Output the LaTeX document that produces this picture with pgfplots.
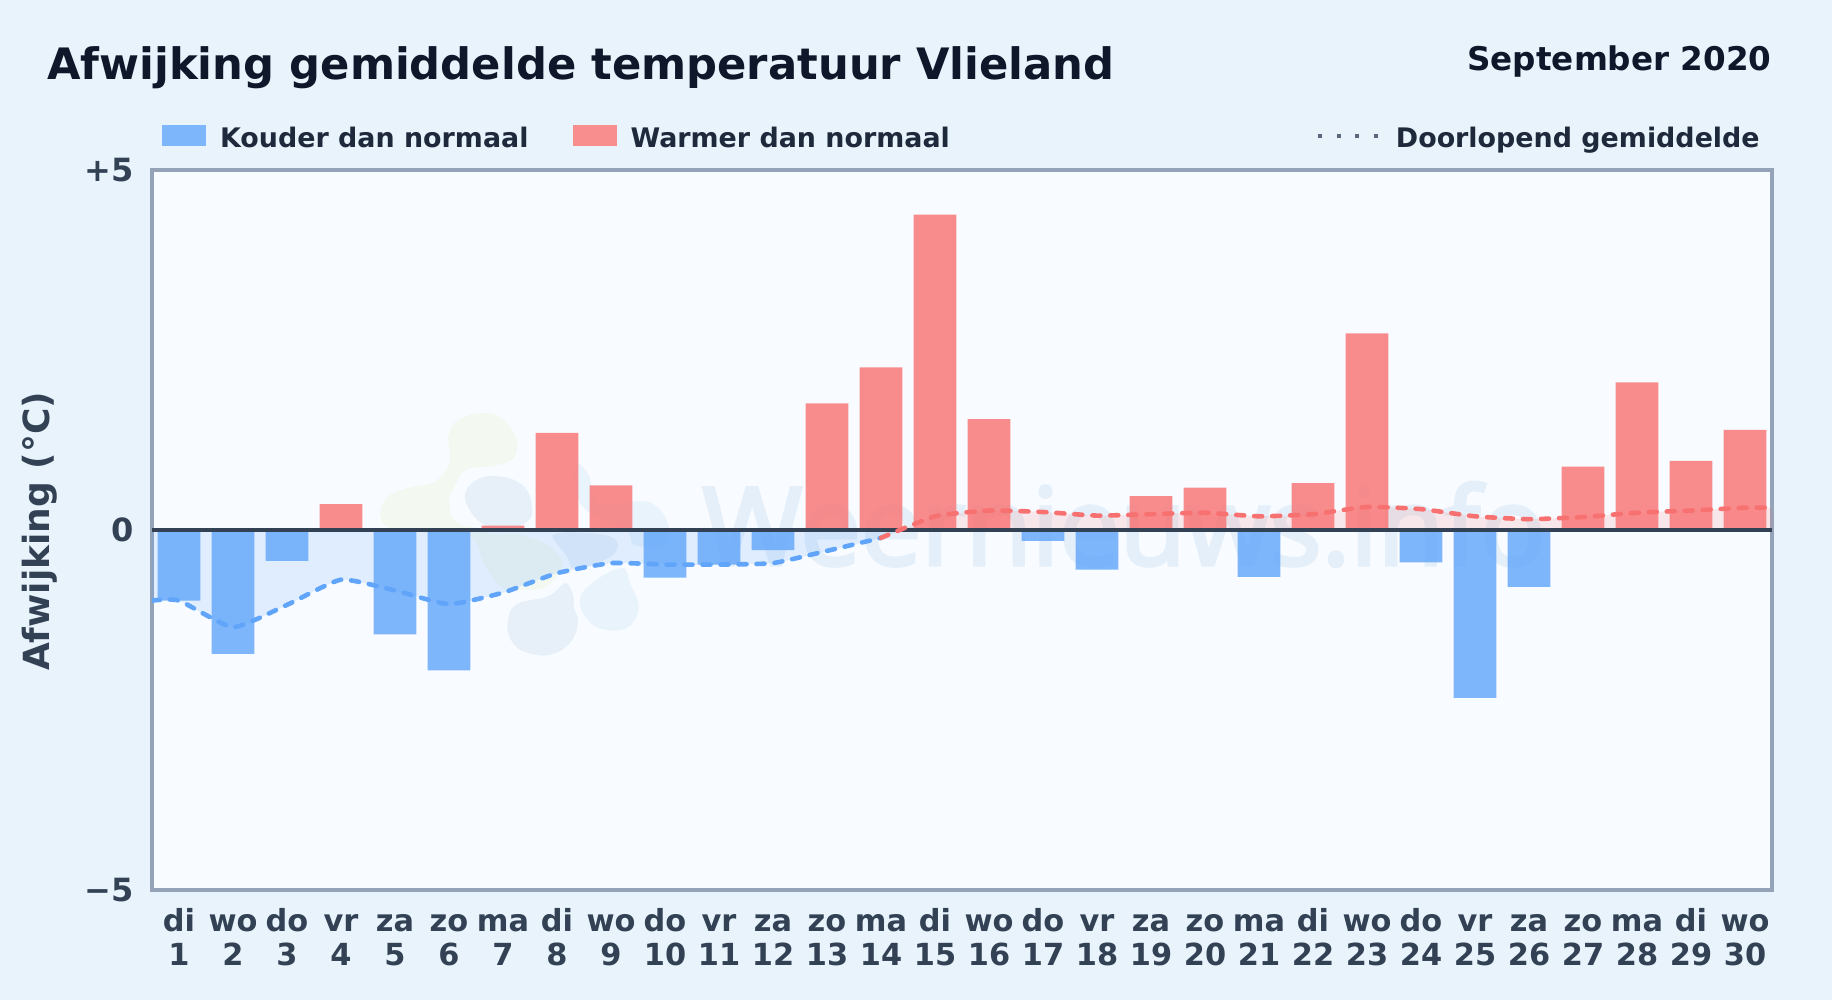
\documentclass[border=0pt]{standalone}
\usepackage{fontspec}
\setmainfont{DejaVu Sans}
\newfontfamily\wmfont[FakeBold=3.2]{Open Sans}
\usepackage{pgfplots}
\pgfplotsset{compat=1.18}

\definecolor{pagebg}{HTML}{E8F3FC}
\definecolor{plotbg}{HTML}{F8FBFF}
\definecolor{frame}{HTML}{94A3B8}
\definecolor{slate}{HTML}{334155}
\definecolor{ink}{HTML}{1E293B}
\definecolor{night}{HTML}{0F172A}
\definecolor{coldc}{HTML}{60A5FA}
\definecolor{warmc}{HTML}{F87171}
\definecolor{coldleg}{HTML}{7EB6FB}
\definecolor{warmleg}{HTML}{F98E8E}

\newcommand{\tl}[2]{\strut#1\\\strut#2}

% afwijking per dag
\pgfplotstableread{
x y
1 -0.98
2 -1.72
3 -0.43
5 -1.45
6 -1.95
10 -0.66
11 -0.48
12 -0.28
17 -0.15
18 -0.55
21 -0.65
24 -0.45
25 -2.33
26 -0.79
}\coldbars
\pgfplotstableread{
x y
4 0.36
7 0.06
8 1.35
9 0.62
13 1.76
14 2.26
15 4.38
16 1.54
19 0.47
20 0.59
22 0.65
23 2.73
27 0.88
28 2.05
29 0.96
30 1.39
}\warmbars

% doorlopend gemiddelde
\pgfplotstableread{
x y
0.5 -0.98
1 -0.98
2 -1.35
3 -1.04
4 -0.69
5 -0.84
6 -1.03
7 -0.87
8 -0.60
9 -0.46
10 -0.48
11 -0.48
12 -0.46
13 -0.29
14 -0.11
}\coldavg
\pgfplotstableread{
x y
14 -0.11
15 0.19
16 0.27
17 0.25
18 0.20
19 0.22
20 0.24
21 0.19
22 0.22
23 0.32
24 0.29
25 0.19
26 0.15
27 0.18
28 0.24
29 0.27
30 0.31
30.5 0.31
}\warmavg
\pgfplotstableread{
x y
0.5 -0.98
1 -0.98
2 -1.35
3 -1.04
4 -0.69
5 -0.84
6 -1.03
7 -0.87
8 -0.60
9 -0.46
10 -0.48
11 -0.48
12 -0.46
13 -0.29
14 -0.11
14.37 0
}\coldarea
\pgfplotstableread{
x y
14.37 0
15 0.19
16 0.27
17 0.25
18 0.20
19 0.22
20 0.24
21 0.19
22 0.22
23 0.32
24 0.29
25 0.19
26 0.15
27 0.18
28 0.24
29 0.27
30 0.31
30.5 0.31
}\warmarea

\begin{document}
\begin{tikzpicture}
\path[use as bounding box, fill=pagebg] (-76pt,-55pt) rectangle (840pt,445pt);
\fill[plotbg] (0pt,0pt) rectangle (810pt,360pt);

% watermark
\begin{scope}[x=0.16667pt,y=-0.16667pt,shift={(624,-1500)}]
\fill[draw=plotbg,line width=0pt,fill={rgb,255:red,243;green,249;blue,240}] plot[smooth cycle,tension=0.7] coordinates {
(265,130)(300,85)(370,68)(430,85)(472,150)(460,205)(400,230)(320,240)(285,290)(270,340)(300,400)
(440,420)(580,470)(610,520)(560,590)(480,600)(420,590)(370,520)(330,440)(200,430)(100,420)(60,380)(80,320)(150,290)(220,275)(265,220)};
\fill[draw=plotbg,line width=3pt,fill={rgb,255:red,231;green,240;blue,248}] plot[smooth cycle,tension=0.7] coordinates {
(305,320)(345,262)(420,250)(495,280)(525,345)(510,400)(430,425)(350,400)};
\fill[draw=plotbg,line width=3pt,fill={rgb,255:red,231;green,240;blue,248}] plot[smooth cycle,tension=0.7] coordinates {
(570,430)(680,420)(770,440)(775,490)(720,525)(640,545)(610,500)};
\fill[draw=plotbg,line width=3pt,fill={rgb,255:red,231;green,240;blue,248}] plot[smooth cycle,tension=0.7] coordinates {
(435,690)(465,635)(560,610)(620,570)(655,640)(655,735)(590,798)(500,798)(445,755)};
\fill[draw=plotbg,line width=3pt,fill={rgb,255:red,232;green,243;blue,252}] plot[smooth cycle,tension=0.7] coordinates {
(650,630)(700,565)(790,525)(820,580)(845,650)(815,715)(750,730)(685,705)};
\fill[draw=plotbg,line width=2pt,fill={rgb,255:red,232;green,243;blue,252}] plot[smooth cycle,tension=0.7] coordinates {
(640,215)(690,250)(715,335)(800,330)(880,335)(930,400)(920,470)(820,470)(790,420)(660,350)};
\end{scope}
\node[anchor=base west,inner sep=0pt,text={rgb,255:red,228;green,239;blue,249}] at (275pt,162.5pt)
  {\fontsize{54}{54}\selectfont\wmfont Weernieuws.info};

% titels
\node[anchor=base west,inner sep=0pt,text=night] at (-52.6pt,405.3pt)
  {\fontsize{21.64}{25}\selectfont\bfseries Afwijking gemiddelde temperatuur Vlieland};
\node[anchor=base east,inner sep=0pt,text=night] at (810pt,409.5pt)
  {\fontsize{16.3}{19}\selectfont\bfseries September 2020};

\begin{axis}[
  at={(0pt,0pt)}, anchor=south west,
  scale only axis,
  width=810pt, height=360pt,
  xmin=0.5, xmax=30.5,
  ymin=-5, ymax=5,
  axis line style={draw=frame,line width=1.6pt},
  xtick={1,...,30},
  xticklabels={\tl{di}{1},\tl{wo}{2},\tl{do}{3},\tl{vr}{4},\tl{za}{5},\tl{zo}{6},\tl{ma}{7},\tl{di}{8},\tl{wo}{9},\tl{do}{10},\tl{vr}{11},\tl{za}{12},\tl{zo}{13},\tl{ma}{14},\tl{di}{15},\tl{wo}{16},\tl{do}{17},\tl{vr}{18},\tl{za}{19},\tl{zo}{20},\tl{ma}{21},\tl{di}{22},\tl{wo}{23},\tl{do}{24},\tl{vr}{25},\tl{za}{26},\tl{zo}{27},\tl{ma}{28},\tl{di}{29},\tl{wo}{30}},
  ytick={-5,0,5},
  yticklabels={−5,0,+5},
  major tick length=0pt,
  xticklabel style={align=center,text=slate,inner sep=0pt,
    font=\fontsize{15.2}{16.9}\selectfont\bfseries,yshift=-8.8pt},
  yticklabel style={text=slate,inner sep=0pt,xshift=-8.8pt,
    font=\fontsize{16}{19}\selectfont\bfseries},
  ylabel={Afwijking (°C)},
  ylabel style={text=slate,font=\fontsize{18}{21}\selectfont\bfseries},
  every axis y label/.append style={at={(axis description cs:-0.0695,0.498)},anchor=center},
  legend columns=3,
  legend cell align=left,
  legend style={
    at={(rel axis cs:0.0062,1.0447)},anchor=west,
    draw=none,fill=none,inner sep=0pt,outer sep=0pt,
    nodes={inner sep=0pt,text=ink,font=\fontsize{13.45}{16}\selectfont\bfseries},
    /tikz/column 1/.style={column sep=7pt},
    /tikz/column 2/.style={column sep=22pt},
    /tikz/column 3/.style={column sep=7pt},
    /tikz/column 4/.style={column sep=183pt},
    /tikz/column 5/.style={column sep=8pt},
  },
]
\addlegendimage{legend image code/.code={\fill[coldleg] (0pt,-3.2pt) rectangle (21.6pt,6.8pt);}}
\addlegendentry{Kouder dan normaal}
\addlegendimage{legend image code/.code={\fill[warmleg] (0pt,-3.2pt) rectangle (21.6pt,6.8pt);}}
\addlegendentry{Warmer dan normaal}
\addlegendimage{legend image code/.code={\draw[color=frame!40!slate,line width=2pt,dash pattern=on 2pt off 7.35pt] (0pt,1.5pt) -- (30pt,1.5pt);}}
\addlegendentry{Doorlopend gemiddelde}

% vlak onder het gemiddelde
\addplot[draw=none,fill=coldc,fill opacity=0.16,smooth,tension=0.3,forget plot] table {\coldarea} \closedcycle;
\addplot[draw=none,fill=warmc,fill opacity=0.14,smooth,tension=0.3,forget plot] table {\warmarea} \closedcycle;

% staven
\addplot[ybar,bar width=21.3pt,bar shift=0pt,draw=none,fill=coldc,fill opacity=0.8,forget plot] table {\coldbars};
\addplot[ybar,bar width=21.3pt,bar shift=0pt,draw=none,fill=warmc,fill opacity=0.8,forget plot] table {\warmbars};

% nullijn
\addplot[slate,line width=2.2pt,forget plot] coordinates {(0.5,0) (30.5,0)};

% doorlopend gemiddelde
\addplot[coldc,line width=2.3pt,line cap=round,dash pattern=on 4pt off 5pt,smooth,tension=0.3,forget plot] table {\coldavg};
\addplot[warmc,line width=2.3pt,line cap=round,dash pattern=on 4pt off 5pt,smooth,tension=0.3,forget plot] table {\warmavg};
\end{axis}
\end{tikzpicture}
\end{document}
